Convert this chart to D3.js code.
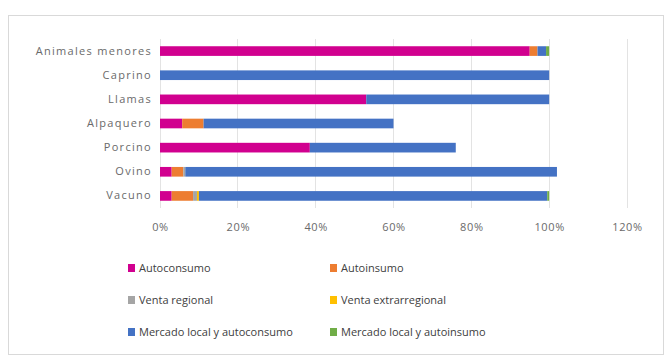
<!DOCTYPE html>
<html><head><meta charset="utf-8">
<script src="https://cdn.jsdelivr.net/npm/d3@7"></script>
<style>body{margin:0;background:#fff}svg{display:block}</style>
</head><body>
<svg id="c" width="666" height="356"></svg>
<script>
const categories = ["Animales menores","Caprino","Llamas","Alpaquero","Porcino","Ovino","Vacuno"];
const seriesNames = ["Autoconsumo","Autoinsumo","Venta regional","Venta extrarregional","Mercado local y autoconsumo","Mercado local y autoinsumo"];
const autoconsumo         = [95, 0, 53, 5.7, 38.5, 3, 3];
const autoinsumo          = [2, 0, 0, 5.5, 0, 3, 5.5];
const ventaRegional       = [0, 0, 0, 0, 0, 0.5, 1];
const ventaExtrarregional = [0, 0, 0, 0, 0, 0, 0.5];
const mercadoLocalAutoc   = [2.2, 100, 47, 48.8, 37.5, 95.5, 89.5];
const mercadoLocalAutoi   = [0.8, 0, 0, 0, 0, 0, 0.5];
const tickValues = [0, 0.2, 0.4, 0.6, 0.8, 1.0, 1.2];
const colors = ["#D1008F","#ED7D31","#A5A5A5","#FFC000","#4472C4","#70AD47"];

const seriesData = [autoconsumo, autoinsumo, ventaRegional, ventaExtrarregional, mercadoLocalAutoc, mercadoLocalAutoi];
const rows = categories.map((c,i)=>{const o={cat:c}; seriesNames.forEach((s,j)=>o[s]=seriesData[j][i]/100); return o;});
const stacked = d3.stack().keys(seriesNames)(rows);

const svg = d3.select("#c");
svg.append("rect").attr("x",8.5).attr("y",15.5).attr("width",655).attr("height",339)
  .attr("fill","#fff").attr("stroke","#d9d9d9");

const x = d3.scaleLinear().domain([0,1.2]).range([160,627]);
const y = d3.scaleBand().domain(categories).range([39,208]).paddingInner(0.6).paddingOuter(0.3);

const font = "'Open Sans', sans-serif";

svg.append("g").selectAll("line").data(tickValues).join("line")
  .attr("x1",d=>x(d)).attr("x2",d=>x(d)).attr("y1",39).attr("y2",208)
  .attr("stroke","#e3e3e3").attr("stroke-width",1).attr("shape-rendering","crispEdges");

svg.append("g").selectAll("g").data(stacked).join("g").attr("fill",(d,i)=>colors[i])
  .selectAll("rect").data(d=>d).join("rect")
  .attr("x",d=>x(d[0])).attr("width",d=>Math.max(0,x(d[1])-x(d[0])))
  .attr("y",d=>y(d.data.cat)).attr("height",y.bandwidth());

const xa = svg.append("g").attr("transform","translate(0,228)")
  .call(d3.axisBottom(x).tickValues(tickValues).tickFormat(d3.format(".0%")).tickSize(0));
xa.select(".domain").remove();
xa.selectAll("text").attr("font-family",font).attr("font-size",11).attr("letter-spacing","0.6px")
  .attr("fill","#6a6a6a").attr("dy","0");

const ya = svg.append("g").attr("transform","translate(152,0)")
  .call(d3.axisLeft(y).tickSize(0));
ya.select(".domain").remove();
ya.selectAll("text").attr("font-family",font).attr("font-size",11).attr("letter-spacing","1.3px")
  .attr("fill","#6a6a6a").attr("x",0);

const legPos = [[128,268],[330,268],[128,300],[330,300],[128,332],[330,332]];
const leg = svg.append("g").selectAll("g").data(seriesNames).join("g")
  .attr("transform",(d,i)=>`translate(${legPos[i][0]},${legPos[i][1]})`);
leg.append("rect").attr("x",0).attr("y",-4).attr("width",7).attr("height",8).attr("fill",(d,i)=>colors[i]);
leg.append("text").attr("x",11).attr("y",0).attr("dy","0.35em").text(d=>d)
  .attr("font-family",font).attr("font-size",11).attr("fill","#404040");
</script>
</body></html>
